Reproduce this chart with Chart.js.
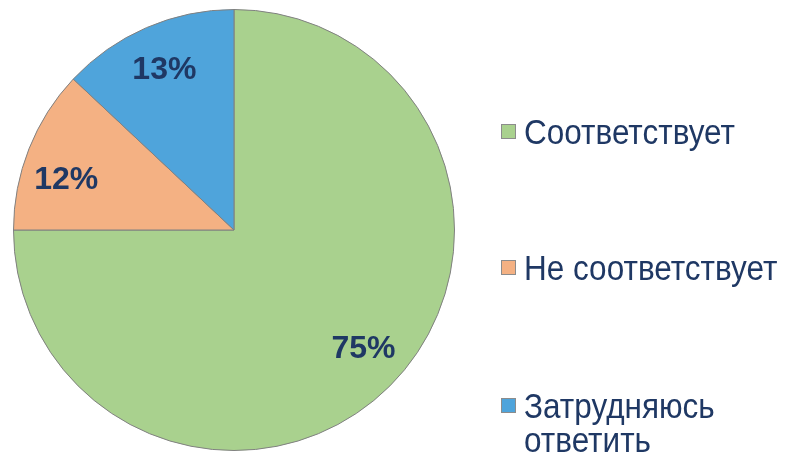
<!DOCTYPE html>
<html>
<head>
<meta charset="utf-8">
<script src="https://cdn.jsdelivr.net/npm/chart.js@4"></script>
<style>
  body { margin: 0; background: #fff; }
  #wrap { position: relative; width: 785px; height: 455px; }
  #legend { position: absolute; left: 0; top: 0; }
  .item { position: absolute; left: 501px; width: 284px; font-family: "Liberation Sans", Arial, sans-serif;
          font-size: 31.5px; color: #1f3864; line-height: 31px; white-space: nowrap; }
  .box { position: absolute; left: 0; top: 9px; width: 15px; height: 15px; border: 1px solid #8c8c8c; box-sizing: border-box; }
  .txt { margin-left: 23px; transform: scaleY(1.1); transform-origin: 0 0; }
</style>
</head>
<body>
<div id="wrap">
  <canvas id="pie" width="785" height="455"></canvas>
  <div id="legend"></div>
</div>
<script>
// data
var categories = ['Соответствует', 'Не соответствует', 'Затрудняюсь ответить'];
var legendLines = [['Соответствует'], ['Не соответствует'], ['Затрудняюсь', 'ответить']];
var values = [75, 12, 13];
var colors = ['#a9d18e', '#f4b183', '#4fa4db'];

// legend placement / label nudges (style only)
var legendTops = [115, 251, 389];
var labelNudge = [-0.045, -0.082, 0];

var legend = document.getElementById('legend');
for (var i = 0; i < categories.length; i++) {
  var div = document.createElement('div');
  div.className = 'item';
  div.style.top = legendTops[i] + 'px';
  div.innerHTML = '<div class="box" style="background:' + colors[i] + '"></div><div class="txt">' + legendLines[i].join('<br>') + '</div>';
  legend.appendChild(div);
}

// percent labels inside slices
var pctLabels = {
  id: 'pctLabels',
  afterDatasetsDraw: function (chart) {
    var ctx = chart.ctx;
    var meta = chart.getDatasetMeta(0);
    ctx.save();
    ctx.font = 'bold 32px "Liberation Sans", Arial, sans-serif';
    ctx.fillStyle = '#1f3864';
    ctx.textAlign = 'center';
    ctx.textBaseline = 'middle';
    meta.data.forEach(function (arc, i) {
      var mid = (arc.startAngle + arc.endAngle) / 2 + labelNudge[i];
      var r = arc.outerRadius * 0.795;
      ctx.fillText(values[i] + '%', arc.x + Math.cos(mid) * r, arc.y + Math.sin(mid) * r + 1);
    });
    ctx.restore();
  }
};

new Chart(document.getElementById('pie'), {
  type: 'pie',
  data: {
    labels: categories,
    datasets: [{
      data: values,
      backgroundColor: colors,
      borderColor: '#808080',
      borderWidth: 1
    }]
  },
  options: {
    responsive: false,
    animation: false,
    layout: { padding: { left: 13, top: 9, right: 330, bottom: 4 } },
    plugins: { legend: { display: false }, tooltip: { enabled: false } }
  },
  plugins: [pctLabels]
});
</script>
</body>
</html>
